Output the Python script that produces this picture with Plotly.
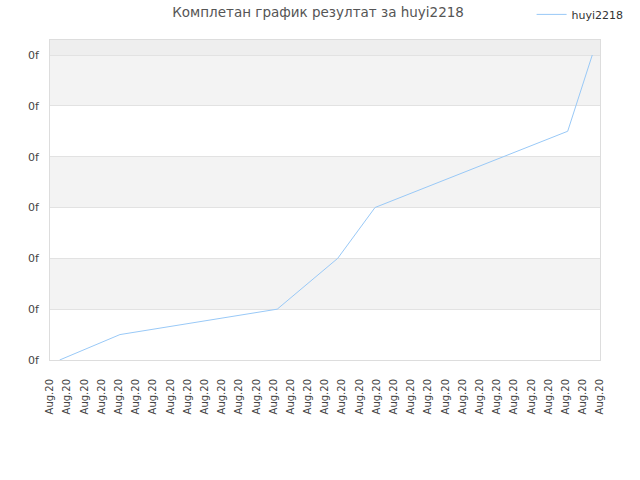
import plotly.graph_objects as go

# Data
x_pos = [0.56, 4.07, 13.22, 16.74, 18.91, 30.12, 31.55]
y_vals = [0.0, 0.5, 1.0, 2.0, 3.0, 4.5, 6.0]
x_tick_vals = list(range(33))
x_tick_text = ["Aug.20"] * 33
y_tick_vals = [0, 1, 2, 3, 4, 5, 6]
y_tick_text = ["0f"] * 7
series_name = "huyi2218"
title_text = "Комплетан график резултат за huyi2218"

Y_TOP = 6.295

fig = go.Figure()
fig.add_trace(go.Scatter(
    x=x_pos, y=y_vals, mode="lines", name=series_name,
    line=dict(color="#99c9f7", width=1),
    showlegend=True,
))

shapes = []
for lo, hi in [(1, 2), (3, 4), (5, 6)]:
    shapes.append(dict(type="rect", xref="paper", yref="y", x0=0, x1=1, y0=lo, y1=hi,
                       fillcolor="#f3f3f3", line=dict(width=0), layer="below"))
shapes.append(dict(type="rect", xref="paper", yref="y", x0=0, x1=1, y0=6, y1=Y_TOP,
                   fillcolor="#eeeeee", line=dict(width=0), layer="below"))

fig.update_layout(
    width=640, height=480,
    margin=dict(l=50, r=40, t=40, b=120, autoexpand=False),
    paper_bgcolor="white", plot_bgcolor="white",
    font=dict(family="DejaVu Sans", size=11, color="#444444"),
    title=dict(text=title_text, xref="container", yref="container",
               x=0.497, xanchor="center", y=0.975, yanchor="middle",
               pad=dict(t=0, b=0, l=0, r=0),
               font=dict(family="DejaVu Sans", size=13.5, color="#555555")),
    legend=dict(x=1.052, xanchor="right", y=1.08, yanchor="middle",
                bgcolor="rgba(0,0,0,0)", font=dict(size=11, color="#333333"),
                itemwidth=30),
    shapes=shapes,
    xaxis=dict(range=[0, 32], tickmode="array", tickvals=x_tick_vals, ticktext=x_tick_text,
               tickangle=-90, showgrid=False, zeroline=False, automargin=False,
               showline=True, linecolor="#dddddd", mirror=True,
               ticks="", ticklen=0, ticklabelstandoff=14,
               tickfont=dict(size=10, color="#444444")),
    yaxis=dict(range=[0, Y_TOP], tickmode="array", tickvals=y_tick_vals, ticktext=y_tick_text,
               showgrid=True, gridcolor="#e2e2e2", zeroline=False, automargin=False,
               showline=True, linecolor="#dddddd", mirror=True,
               ticks="", ticklabelstandoff=8,
               tickfont=dict(size=11, color="#444444")),
)

fig.write_html("out.html", config={"displayModeBar": False},
               post_script="document.body.style.margin='0';")
